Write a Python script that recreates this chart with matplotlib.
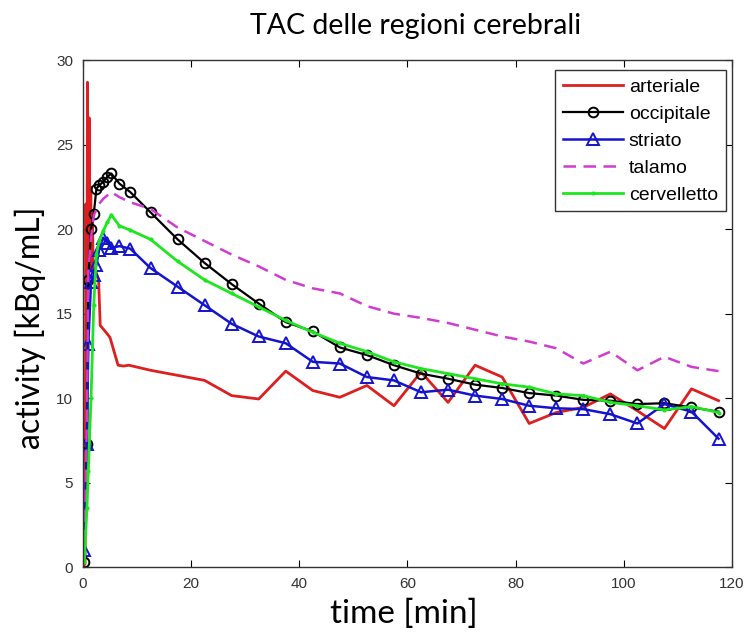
import numpy as np
import matplotlib
matplotlib.use('Agg')
import matplotlib.pyplot as plt

# tempi dei frame (min) per le regioni
t_tissue = [0.25, 0.75, 1.0, 1.5, 2.0, 2.5, 3.0, 3.75, 4.5, 5.25, 6.75, 8.75,
            12.5, 17.5, 22.5, 27.5, 32.5, 37.5, 42.5, 47.5, 52.5, 57.5, 62.5,
            67.5, 72.5, 77.5, 82.5, 87.5, 92.5, 97.5, 102.5, 107.5, 112.5, 117.5]

occipitale = [0.3, 7.3, 17.0, 20.0, 20.9, 22.4, 22.6, 22.8, 23.1, 23.3, 22.7, 22.2,
              21.0, 19.4, 18.0, 16.75, 15.6, 14.5, 13.95, 13.0, 12.55, 11.95, 11.45,
              11.15, 10.8, 10.6, 10.3, 10.15, 9.9, 9.85, 9.65, 9.7, 9.45, 9.2]

striato = [1.0, 7.3, 13.2, 16.9, 17.3, 17.9, 18.8, 19.5, 19.2, 18.9, 19.0, 18.85,
           17.7, 16.6, 15.5, 14.4, 13.65, 13.25, 12.15, 12.05, 11.25, 11.05, 10.35,
           10.5, 10.15, 9.95, 9.55, 9.4, 9.35, 9.05, 8.5, 9.65, 9.2, 7.6]

talamo = [0.3, 9.0, 17.5, 19.5, 20.8, 21.2, 21.5, 21.8, 22.0, 22.2, 21.9, 21.6,
          21.2, 20.1, 19.3, 18.5, 17.8, 17.0, 16.5, 16.2, 15.45, 15.0, 14.75,
          14.45, 14.05, 13.65, 13.35, 12.95, 12.05, 12.75, 11.65, 12.45, 11.85, 11.6]

cervelletto = [0.3, 3.5, 5.7, 10.0, 15.5, 18.5, 19.3, 19.9, 20.4, 20.85, 20.2, 19.95,
               19.4, 18.1, 17.0, 16.2, 15.4, 14.6, 13.9, 13.25, 12.75, 12.15, 11.75,
               11.45, 11.15, 10.85, 10.65, 10.25, 10.15, 9.75, 9.55, 9.3, 9.5, 9.15]

# curva arteriale (campionamento più fitto all'inizio)
t_art = [0, 0.4, 0.55, 0.7, 0.85, 1.0, 1.15, 1.3, 1.45, 1.6, 1.75, 1.9, 2.4, 2.9, 3.2,
         4.0, 5.0, 6.5, 7.5, 8.5, 12.5, 17.5, 22.5, 27.5, 32.5, 37.5, 42.5, 47.5,
         52.5, 57.5, 62.5, 67.5, 72.5, 77.5, 82.5, 87.5, 92.5, 97.5, 102.5, 107.5,
         112.5, 117.5]
arteriale = [0, 0.2, 21.5, 12.0, 28.7, 16.5, 26.6, 17.5, 22.5, 18.0, 21.0, 17.4,
             17.5, 17.0, 14.3, 14.0, 13.6, 11.95, 11.9, 11.95, 11.65, 11.35, 11.05,
             10.15, 9.95, 11.6, 10.45, 10.05, 10.75, 9.55, 11.55, 9.75, 11.95, 11.25,
             8.5, 9.15, 9.45, 10.25, 9.25, 8.2, 10.55, 9.85]

fig = plt.figure(figsize=(7.47, 6.35), dpi=100)
ax = fig.add_axes([0.111, 0.107, 0.869, 0.798])

ax.plot(t_art, arteriale, color='#dd1f1f', lw=2.0, label='arteriale')
ax.plot(t_tissue, occipitale, color='black', lw=1.6, marker='o', ms=7,
        mfc='none', mew=1.4, label='occipitale')
ax.plot(t_tissue, striato, color='#1414cc', lw=1.8, marker='^', ms=8,
        mfc='none', mew=1.4, label='striato')
ax.plot(t_tissue, talamo, color='#d03cd0', lw=1.8, ls=(0, (5, 3)), label='talamo')
ax.plot(t_tissue, cervelletto, color='#1ee61e', lw=2.0, marker='.', ms=4,
        label='cervelletto')

ax.set_xlim(0, 120)
ax.set_ylim(0, 30)
ax.set_xticks(np.arange(0, 121, 20))
ax.set_yticks(np.arange(0, 31, 5))
ax.tick_params(direction='in', top=True, right=True, length=5, width=0.8,
               labelsize=11, pad=7)
for lab in ax.get_xticklabels() + ax.get_yticklabels():
    lab.set_family('Liberation Sans')
    lab.set_color('#333333')
for s in ax.spines.values():
    s.set_linewidth(1.0)
    s.set_color('#333333')

leg = ax.legend(loc='upper right', bbox_to_anchor=(0.99, 0.98),
                prop={'family': 'Liberation Sans', 'size': 14},
                handlelength=3.1, handletextpad=0.3, labelspacing=0.48,
                borderpad=0.4, borderaxespad=0, fancybox=False, framealpha=1)
leg.get_frame().set_edgecolor('#333333')
leg.get_frame().set_linewidth(1.0)

fig.text(416 / 747, 1 - 26 / 635, 'TAC delle regioni cerebrali', family='Lato',
         fontsize=20.5, ha='center', va='center')
fig.text(30 / 747, 1 - 328 / 635, 'activity [kBq/mL]', family='Lato',
         fontsize=23, ha='center', va='center', rotation=90)
fig.text(404 / 747, 1 - 614 / 635, 'time [min]', family='Lato',
         fontsize=24, ha='center', va='center')

fig.savefig('out.png', dpi=100)
